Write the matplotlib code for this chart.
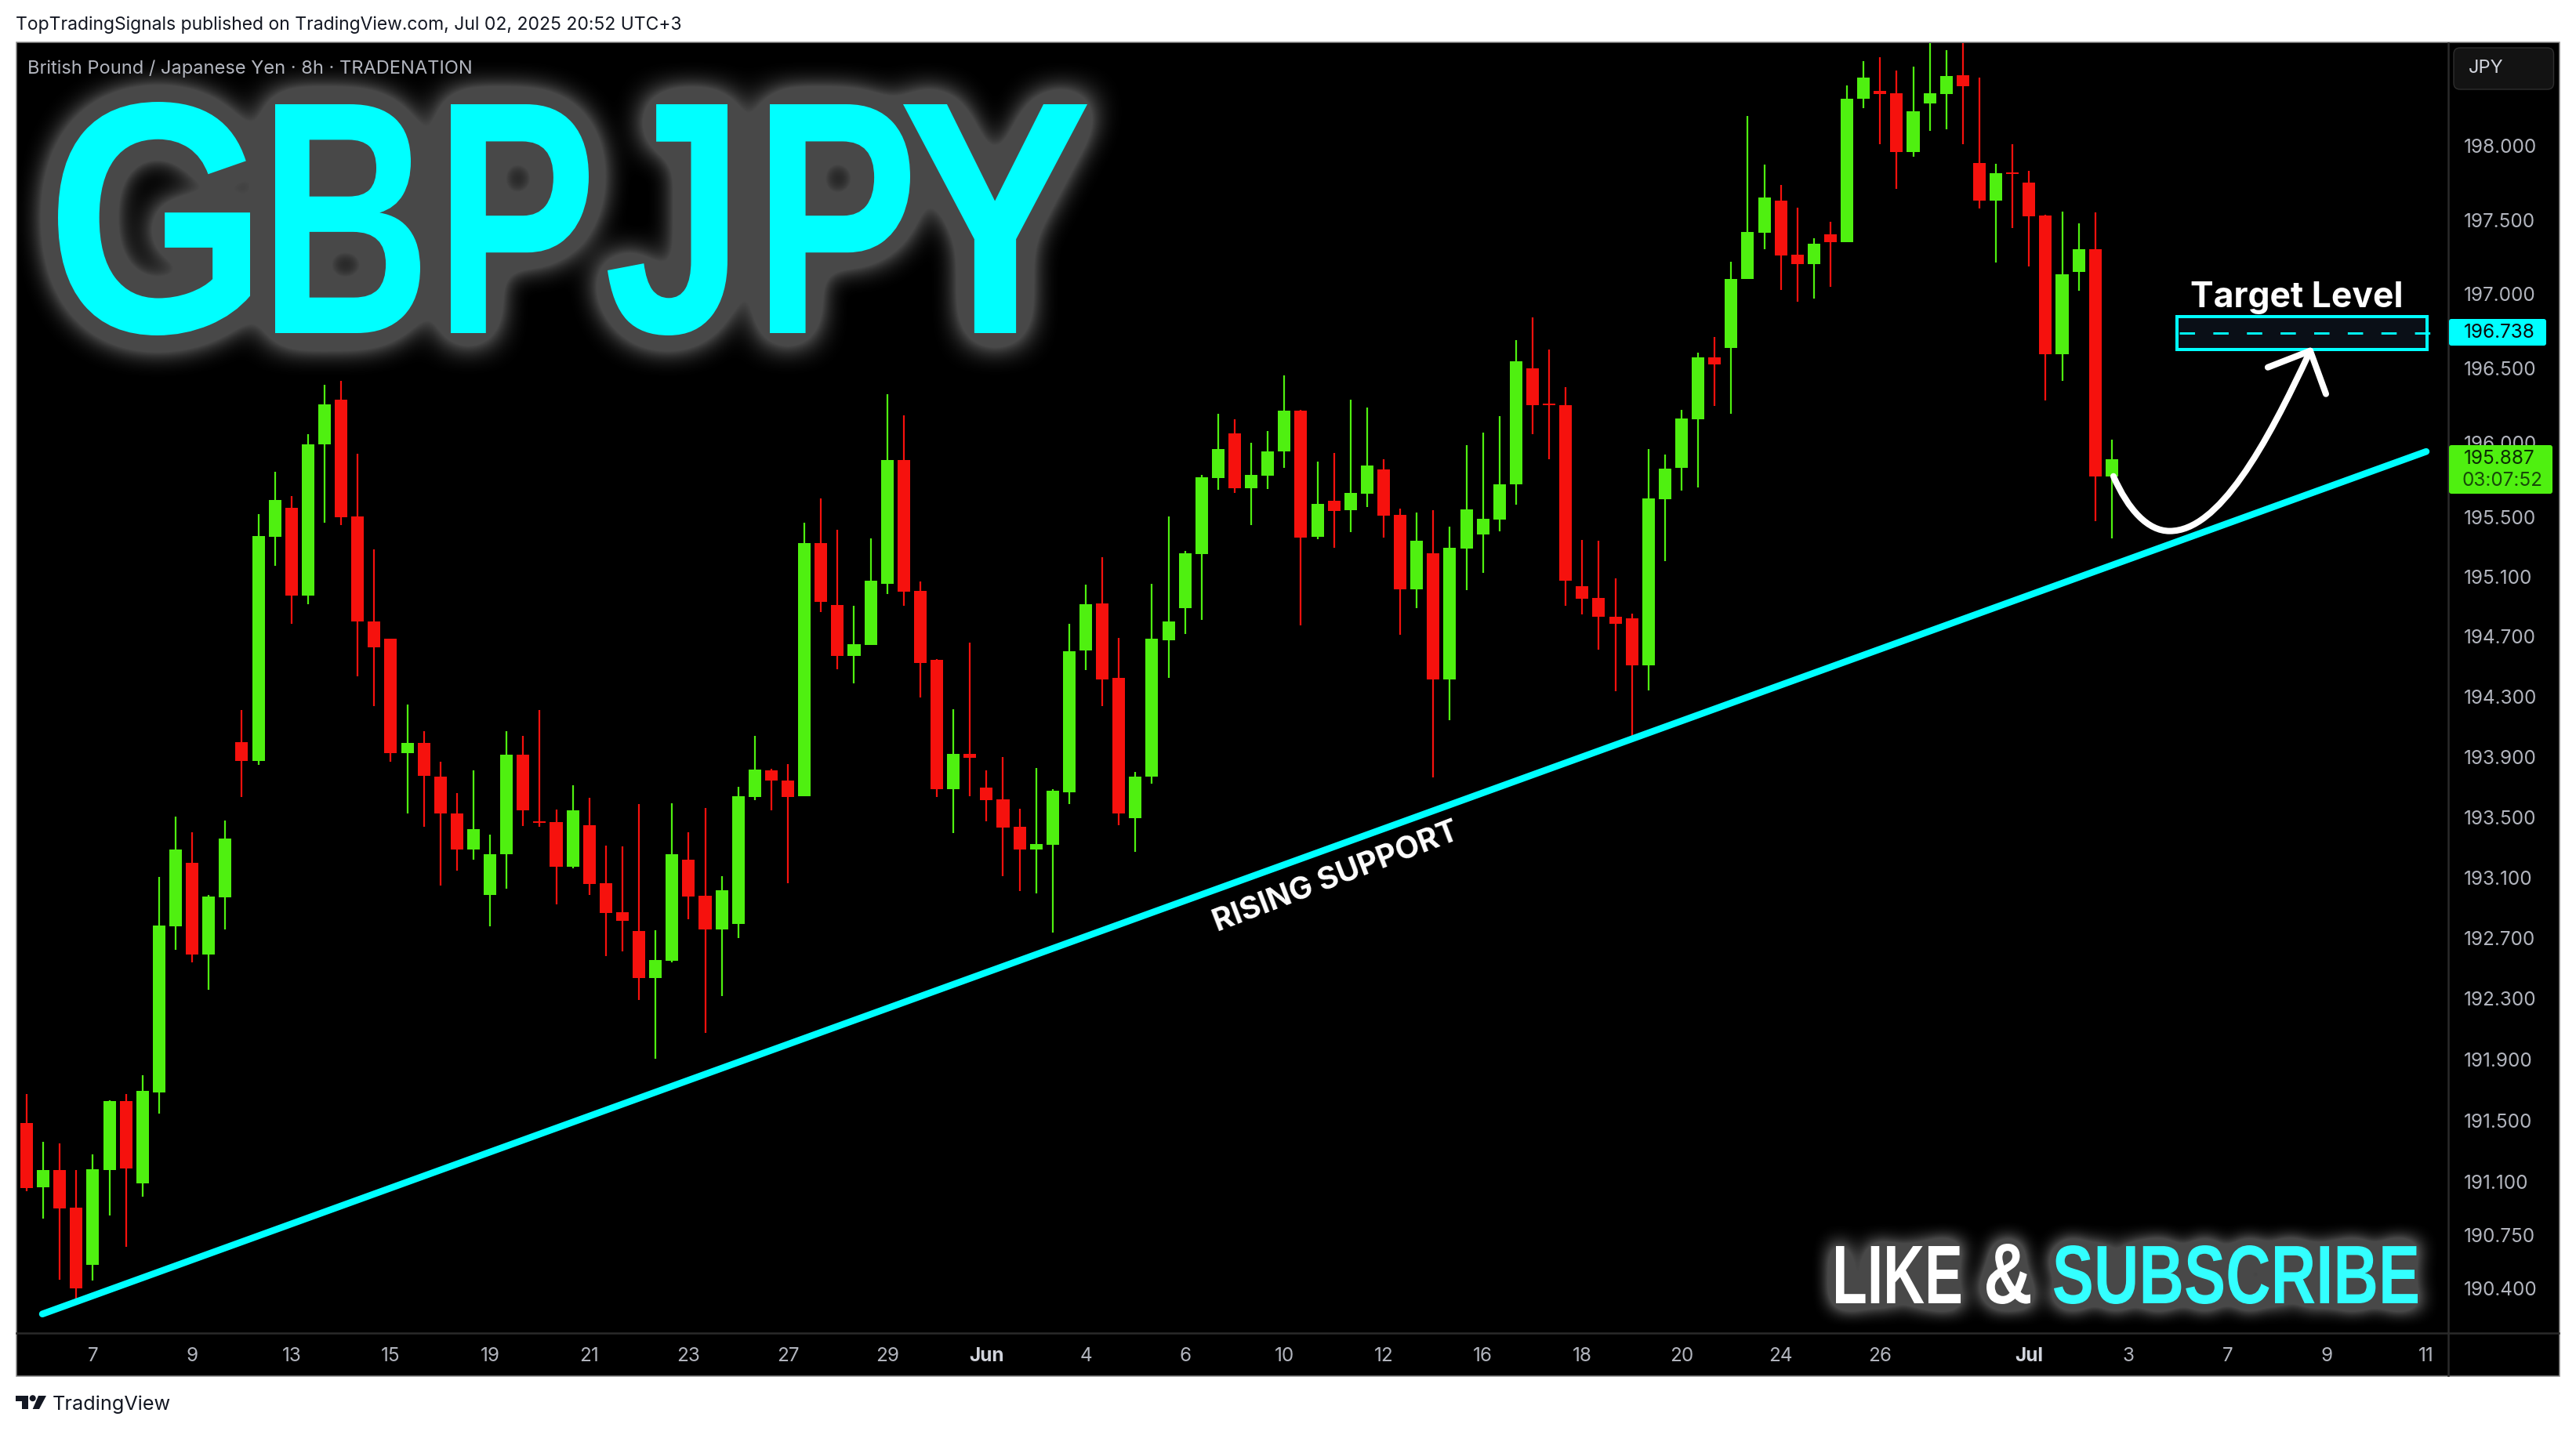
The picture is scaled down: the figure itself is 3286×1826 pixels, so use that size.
import numpy as np
import matplotlib
matplotlib.use("Agg")
import matplotlib.pyplot as plt
from matplotlib.font_manager import FontProperties
from matplotlib.lines import Line2D
from matplotlib.patches import FancyBboxPatch, PathPatch, Polygon, Circle, Rectangle
from matplotlib.path import Path
from matplotlib.textpath import TextPath
from matplotlib.ticker import FixedLocator, NullLocator
from matplotlib.transforms import Affine2D

plt.rcParams['font.family'] = ['Inter', 'DejaVu Sans']

W, H = 3286, 1826

#* candles, 8h bars
highs = [
    191.673, 191.360, 191.349, 191.175, 191.277, 191.631, 191.673, 191.796, 193.102, 193.506,
    193.402, 192.983, 193.480, 194.214, 195.521, 195.805, 195.642, 196.057, 196.389, 196.415,
    195.926, 195.285, 194.684, 194.250, 194.073, 193.870, 193.662, 193.808, 193.382, 194.073,
    194.037, 194.214, 193.548, 193.714, 193.626, 193.314, 193.304, 193.589, 192.750, 193.594,
    193.402, 193.563, 193.107, 193.703, 194.042, 193.823, 193.854, 195.464, 195.626, 195.416,
    194.904, 195.359, 196.325, 196.183, 195.071, 194.553, 194.219, 194.663, 193.808, 193.901,
    193.558, 193.828, 193.688, 194.788, 195.050, 195.233, 194.694, 193.802, 195.055, 195.505,
    195.275, 195.784, 196.194, 196.157, 195.999, 196.078, 196.452, 196.220, 195.873, 195.931,
    196.289, 196.236, 195.889, 195.558, 195.532, 195.547, 195.437, 195.984, 196.068, 196.178,
    196.689, 196.842, 196.626, 196.373, 195.348, 195.343, 195.087, 194.856, 195.957, 195.920,
    196.220, 196.605, 196.710, 197.217, 198.204, 197.874, 197.737, 197.583, 197.376, 197.487,
    198.411, 198.576, 198.603, 198.512, 198.539, 198.750, 198.651, 198.750, 198.465, 197.880,
    198.012, 197.832, 197.535, 197.556, 197.477, 197.551, 196.021,
]
lows = [
    191.037, 190.857, 190.459, 190.331, 190.454, 190.878, 190.673, 191.001, 191.544, 192.621,
    192.538, 192.358, 192.755, 193.636, 193.849, 195.175, 194.788, 194.919, 195.464, 195.448,
    194.438, 194.240, 193.870, 193.527, 193.434, 193.045, 193.148, 193.216, 192.776, 193.024,
    193.439, 193.434, 192.921, 193.159, 192.983, 192.580, 192.611, 192.291, 191.904, 192.538,
    192.822, 192.074, 192.317, 192.699, 193.615, 193.543, 193.065, 193.641, 194.866, 194.485,
    194.391, 194.647, 194.987, 194.908, 194.297, 193.636, 193.397, 193.641, 193.475, 193.107,
    193.009, 192.993, 192.735, 193.589, 194.475, 194.235, 193.449, 193.268, 193.724, 194.423,
    194.720, 194.814, 195.684, 195.663, 195.448, 195.689, 195.831, 194.778, 195.354, 195.296,
    195.401, 195.568, 195.364, 194.715, 194.893, 193.766, 194.146, 195.013, 195.128, 195.406,
    195.584, 196.057, 195.889, 194.908, 194.851, 194.616, 194.339, 194.037, 194.344, 195.207,
    195.679, 195.700, 196.247, 196.194, 197.101, 197.302, 197.027, 196.947, 196.968, 197.048,
    197.350, 198.257, 198.012, 197.710, 197.927, 198.103, 198.113, 198.012, 197.578, 197.212,
    197.445, 197.186, 196.283, 196.415, 197.022, 195.474, 195.359,
]
opens = [
    191.483, 191.062, 191.175, 190.929, 190.556, 191.175, 191.626, 191.088, 191.683, 192.776,
    193.195, 192.590, 192.967, 194.000, 193.875, 195.369, 195.563, 194.976, 195.989, 196.289,
    195.505, 194.804, 194.684, 193.927, 193.995, 193.771, 193.527, 193.283, 192.983, 193.252,
    193.912, 193.475, 193.465, 193.174, 193.449, 193.060, 192.869, 192.745, 192.435, 192.549,
    193.216, 192.978, 192.755, 192.792, 193.636, 193.813, 193.745, 193.641, 195.327, 194.914,
    194.574, 194.647, 195.055, 195.884, 195.008, 194.543, 193.688, 193.922, 193.698, 193.620,
    193.434, 193.288, 193.319, 193.667, 194.610, 194.924, 194.423, 193.491, 193.771, 194.678,
    194.893, 195.254, 195.763, 196.062, 195.695, 195.779, 195.942, 196.215, 195.369, 195.611,
    195.547, 195.658, 195.821, 195.516, 195.018, 195.259, 194.417, 195.290, 195.385, 195.485,
    195.721, 196.499, 196.262, 196.252, 195.039, 194.960, 194.835, 194.825, 194.511, 195.621,
    195.831, 196.157, 196.573, 196.636, 197.101, 197.413, 197.631, 197.265, 197.201, 197.403,
    197.350, 198.321, 198.374, 198.358, 197.959, 198.289, 198.353, 198.480, 197.885, 197.631,
    197.821, 197.752, 197.530, 196.594, 197.148, 197.302, 195.773,
]
closes = [
    191.057, 191.175, 190.924, 190.403, 191.180, 191.626, 191.185, 191.693, 192.781, 193.283,
    192.590, 192.972, 193.356, 193.875, 195.374, 195.616, 194.976, 195.989, 196.257, 195.500,
    194.799, 194.631, 193.927, 193.995, 193.776, 193.522, 193.283, 193.418, 193.252, 193.912,
    193.543, 193.460, 193.174, 193.543, 193.055, 192.864, 192.812, 192.435, 192.554, 193.252,
    192.972, 192.755, 193.014, 193.641, 193.818, 193.745, 193.636, 195.327, 194.934, 194.574,
    194.652, 195.076, 195.884, 195.003, 194.522, 193.683, 193.922, 193.896, 193.615, 193.429,
    193.288, 193.324, 193.677, 194.605, 194.919, 194.417, 193.527, 193.771, 194.684, 194.799,
    195.259, 195.768, 195.957, 195.695, 195.784, 195.942, 196.215, 195.364, 195.590, 195.542,
    195.663, 195.847, 195.511, 195.018, 195.343, 194.417, 195.296, 195.553, 195.490, 195.721,
    196.547, 196.252, 196.252, 195.076, 194.955, 194.835, 194.788, 194.511, 195.626, 195.826,
    196.162, 196.573, 196.526, 197.101, 197.419, 197.652, 197.260, 197.201, 197.339, 197.350,
    198.321, 198.465, 198.353, 197.959, 198.236, 198.358, 198.475, 198.406, 197.631, 197.816,
    197.811, 197.525, 196.594, 197.133, 197.302, 195.773, 195.889,
]

#* axis labels
price_ticks = [198.0, 197.5, 197.0, 196.5, 196.0, 195.5, 195.1, 194.7, 194.3, 193.9,
               193.5, 193.1, 192.7, 192.3, 191.9, 191.5, 191.1, 190.75, 190.4]
time_ticks = [4, 10, 16, 22, 28, 34, 40, 46, 52, 58, 64, 70, 76, 82, 88, 94, 100, 106, 112, 121, 127, 133, 139, 145]
time_labels = ['7', '9', '13', '15', '19', '21', '23', '27', '29', 'Jun', '4', '6', '10', '12',
               '16', '18', '20', '24', '26', 'Jul', '3', '7', '9', '11']

#* drawings, in bar index / price
support_x = [0.95, 145.0]
support_y = [190.234, 195.939]
target_price = 196.738
last_price = 195.887
target_box_x = [129.94, 145.07]
target_box_y = [196.626, 196.847]
target_line_x = [130.08, 145.52]
arrow_curve_x = [126.1, 127.0, 128.18, 129.5, 132.45, 135.29, 137.99]
arrow_curve_y = [195.773, 195.547, 195.406, 195.406, 195.406, 195.968, 196.616]
arrow_head_x = [135.43, 137.99, 138.94]
arrow_head_y = [196.505, 196.616, 196.326]

GREEN = '#4ff010'
RED = '#f6110d'
CYAN = '#00ffff'
GREY = '#b2b5be'
LIGHT = '#d1d4dc'
BORDER = '#2a2a2a'
INK = '#131722'


def fit_text(s, x0, x1, y0, y1, family='Liberation Sans'):
    #* text outline stretched to a pixel box (y from the top of the image)
    tp = TextPath((0, 0), s, size=100, prop=FontProperties(family=family, weight='bold'))
    box = tp.get_extents()
    trans = (Affine2D().translate(-box.x0, -box.y0)
             .scale((x1 - x0) / box.width, (y1 - y0) / box.height)
             .translate(x0, H - y1))
    return tp.transformed(trans)


def box_blur(a, r, passes=3):
    #* repeated box filter, close enough to a gaussian
    k = np.ones(2 * r + 1) / (2 * r + 1)
    for _ in range(passes):
        a = np.apply_along_axis(lambda v: np.convolve(v, k, mode='same'), 0, a)
        a = np.apply_along_axis(lambda v: np.convolve(v, k, mode='same'), 1, a)
    return a


def add_glow(fig, paths, box, r, gain, level=0.29):
    #* draw the outlines on their own canvas, blur them, lay the result in as a grey haze
    tmp = plt.figure(figsize=(W / 100, H / 100), dpi=100, facecolor='black')
    for p in paths:
        tmp.add_artist(PathPatch(p, facecolor='white', edgecolor='none', transform=Affine2D()))
    tmp.canvas.draw()
    mask = np.asarray(tmp.canvas.buffer_rgba())[:, :, 0] / 255.0
    plt.close(tmp)
    x0, x1, y0, y1 = box
    blurred = box_blur(mask[y0:y1, x0:x1], r)
    rgba = np.ones((y1 - y0, x1 - x0, 4))
    rgba[:, :, 3] = np.clip(blurred * gain, 0, 1) * level
    fig.figimage(rgba, xo=x0, yo=H - y1, origin='upper', zorder=1)


def add_px_text(fig, x, y, s, **kw):
    kw.setdefault('va', 'center')
    fig.text(x / W, 1 - y / H, s, **kw)


fig = plt.figure(figsize=(W / 100, H / 100), dpi=100, facecolor='white')

#* black frame of the whole chart widget
frame = Rectangle((20.5, H - 1756), 3265 - 20.5, 1756 - 54, facecolor='black', edgecolor='#8a8a8a',
                  linewidth=1.1, transform=Affine2D(), zorder=-1)
fig.add_artist(frame)

ax = fig.add_axes([21 / W, 1 - 1701 / H, (3123 - 21) / W, (1701 - 55) / H])
ax.set_facecolor('none')
ax.set_zorder(1.5)
ax.set_yscale('log')
ax.set_ylim(190.11, 198.70)
ax.set_xlim(-0.616, 146.33)

x = np.arange(len(closes))
o, c, hi, lo = map(np.array, (opens, closes, highs, lows))
colors_ = np.where(c >= o, GREEN, RED)
ax.vlines(x, lo, hi, colors=colors_, linewidth=1.6, zorder=2)
ax.bar(x, np.abs(c - o), bottom=np.minimum(o, c), width=0.76, color=colors_, linewidth=0, zorder=3)

#* rising support
ax.plot(support_x, support_y, color=CYAN, lw=6.2, solid_capstyle='round', zorder=4)

#* target box and dashed level
ax.add_patch(Rectangle((target_box_x[0], target_box_y[0]), target_box_x[1] - target_box_x[0],
                       target_box_y[1] - target_box_y[0], facecolor='#0a0f17', edgecolor=CYAN, lw=2.9, zorder=4))
ax.plot(target_line_x, [target_price, target_price], color=CYAN, lw=2.1, ls=(0, (6.7, 8.0)), zorder=5)

#* hand drawn arrow
codes = [Path.MOVETO] + [Path.CURVE4] * 6
ax.add_patch(PathPatch(Path(np.column_stack([arrow_curve_x, arrow_curve_y]), codes), facecolor='none',
                       edgecolor='white', lw=5.8, capstyle='round', zorder=6))
ax.plot(arrow_head_x, arrow_head_y, color='white', lw=5.8, solid_capstyle='round', solid_joinstyle='round', zorder=6)

ax.yaxis.tick_right()
ax.yaxis.set_major_locator(FixedLocator(price_ticks))
ax.yaxis.set_minor_locator(NullLocator())
ax.set_yticklabels([f'{p:.3f}' for p in price_ticks], fontsize=17.5, color=GREY, ha='left')
ax.tick_params(axis='y', length=0, pad=14)
ax.set_xticks(time_ticks)
ax.set_xticklabels(time_labels, fontsize=17.5, color=GREY)
ax.tick_params(axis='x', length=0, pad=13)
for lab in ax.get_xticklabels():
    if lab.get_text() in ('Jun', 'Jul'):
        lab.set_color(LIGHT)
        lab.set_fontweight('bold')
ax.grid(False)
for side in ('top', 'left'):
    ax.spines[side].set_visible(False)
for side in ('right', 'bottom'):
    ax.spines[side].set_color(BORDER)
    ax.spines[side].set_linewidth(1.8)

#* axis lines carried on through the corner
fig.add_artist(Line2D([3123 / W, 3123 / W], [1 - 1755 / H, 1 - 1701 / H], color=BORDER, lw=1.8, zorder=1))
fig.add_artist(Line2D([3123 / W, 3264 / W], [1 - 1701 / H, 1 - 1701 / H], color=BORDER, lw=1.8, zorder=1))

#* big glow titles, one box per letter
gbp_letters = [('G', 74, 319, 130, 428), ('B', 351, 536, 133, 425), ('P', 575, 751, 133, 425),
               ('J', 775, 928, 133, 428), ('P', 982, 1161, 133, 425), ('Y', 1152, 1387, 133, 425)]
gbp_paths = [fit_text(*g) for g in gbp_letters]
add_glow(fig, gbp_paths, (21, 1500, 56, 560), 22, 6.0)
for p in gbp_paths:
    fig.add_artist(PathPatch(p, facecolor=CYAN, edgecolor='none', transform=Affine2D(), zorder=2))

like_path = fit_text('LIKE', 2342, 2501, 1590, 1663)
amp_path = fit_text('&', 2534, 2590, 1587, 1664)
sub_path = fit_text('SUBSCRIBE', 2620, 3084, 1589, 1664)
add_glow(fig, [like_path, amp_path, sub_path], (2270, 3122, 1510, 1700), 12, 6.0)
fig.add_artist(PathPatch(like_path, facecolor='white', edgecolor='none', transform=Affine2D(), zorder=2))
fig.add_artist(PathPatch(amp_path, facecolor='white', edgecolor='none', transform=Affine2D(), zorder=2))
fig.add_artist(PathPatch(sub_path, facecolor='#33ffff', edgecolor='none', transform=Affine2D(), zorder=2))

#* header and footer text
add_px_text(fig, 20, 32, 'TopTradingSignals published on TradingView.com, Jul 02, 2025 20:52 UTC+3',
            fontsize=16.5, color=INK)
add_px_text(fig, 35, 88, 'British Pound / Japanese Yen · 8h · TRADENATION', fontsize=17, color=GREY)
add_px_text(fig, 67, 1792, 'TradingView', fontsize=18.2, color=INK)

#* TradingView mark
fig.add_artist(Polygon([(20, H - 1781), (36, H - 1781), (36, H - 1798), (28, H - 1798), (28, H - 1788), (20, H - 1788)],
                       closed=True, facecolor=INK, edgecolor='none', transform=Affine2D(), zorder=2))
fig.add_artist(Circle((41.7, H - 1784.2), 4, facecolor=INK, edgecolor='none', transform=Affine2D(), zorder=2))
fig.add_artist(Polygon([(49, H - 1781), (59, H - 1781), (50, H - 1798), (41.7, H - 1798)],
                       closed=True, facecolor=INK, edgecolor='none', transform=Affine2D(), zorder=2))

#* labels on the drawings
add_px_text(fig, 2930, 380, 'Target Level', fontsize=32, fontweight='bold', color='white', ha='center')
fig.text(1705 / W, 1 - 1120 / H, 'RISING SUPPORT', fontsize=28.5, fontweight='bold', color='white',
         rotation=21, ha='center', va='center', rotation_mode='anchor', zorder=7)

#* price scale tags
fig.add_artist(FancyBboxPatch((3124, H - 441), 3248 - 3124, 34, boxstyle='round,pad=0,rounding_size=3',
                              facecolor=CYAN, edgecolor='none', transform=Affine2D(), zorder=2))
add_px_text(fig, 3142.5, 424, '196.738', fontsize=17.5, color='#0b0b0b')
fig.add_artist(FancyBboxPatch((3124, H - 630), 3256 - 3124, 62, boxstyle='round,pad=0,rounding_size=3',
                              facecolor=GREEN, edgecolor='none', transform=Affine2D(), zorder=2))
add_px_text(fig, 3142.5, 585, f'{last_price:.3f}', fontsize=17.5, color='#0b2b04')
add_px_text(fig, 3141, 613, '03:07:52', fontsize=17.5, color='#174a08')

#* currency button
fig.add_artist(FancyBboxPatch((3130, H - 114), 127.5, 53, boxstyle='round,pad=0,rounding_size=8',
                              facecolor='#131313', edgecolor='#2e2e2e', linewidth=1, transform=Affine2D(), zorder=2))
add_px_text(fig, 3148.5, 87, 'JPY', fontsize=17, color=LIGHT)

fig.savefig('out.png', dpi=100)
